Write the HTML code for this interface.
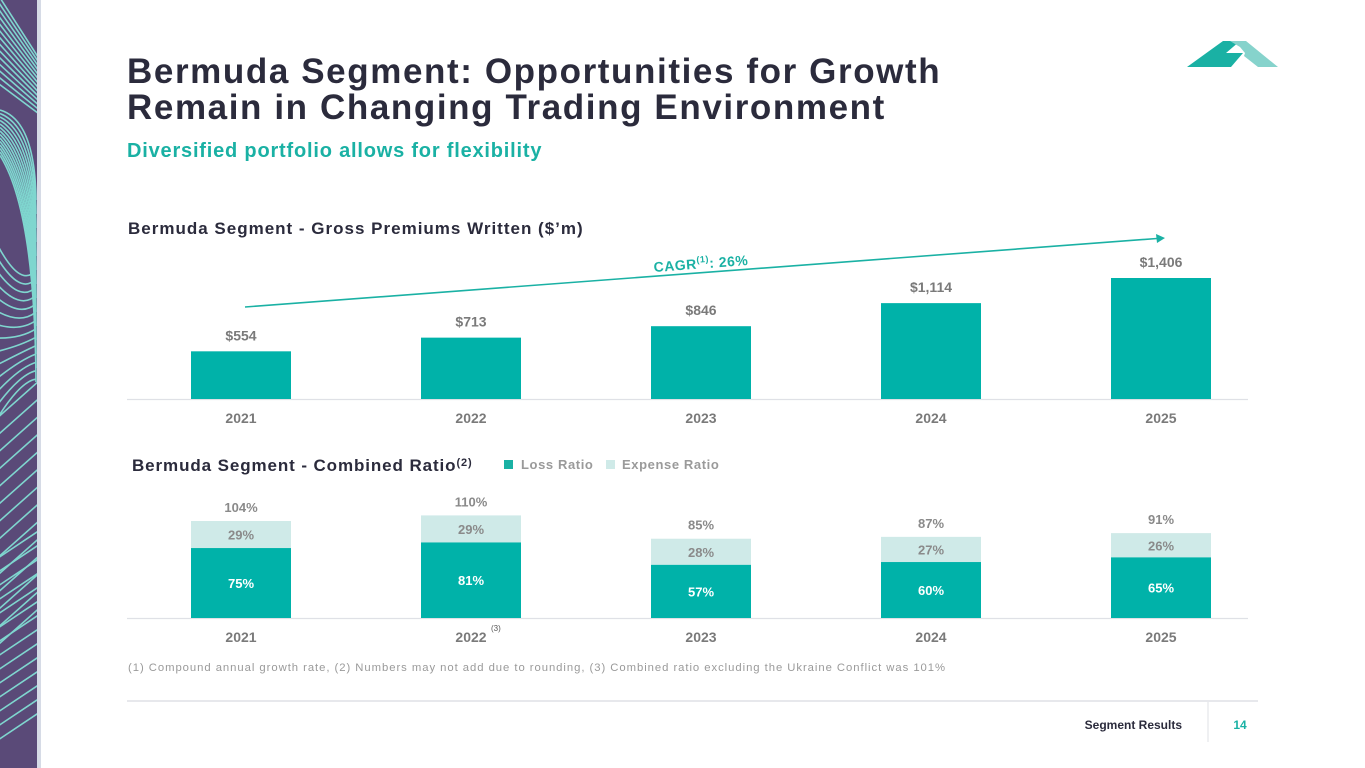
<!DOCTYPE html>
<html><head><meta charset="utf-8">
<style>
html,body{margin:0;padding:0;background:#fff;width:1365px;height:768px;overflow:hidden;}
body{position:relative;font-family:"Liberation Sans",sans-serif;}
svg{position:absolute;left:0;top:0;display:block;}
</style></head>
<body>
<svg width="1365" height="768" viewBox="0 0 1365 768" xmlns="http://www.w3.org/2000/svg">
  <defs><clipPath id="stripClip"><rect x="0" y="0" width="37" height="768"/></clipPath></defs>
  <g>
    <rect x="0" y="0" width="37" height="768" fill="#5a4a78"/>
    <rect x="37" y="0" width="4" height="768" fill="#d6dbe6"/>
    <g id="decorLines" stroke="#7fd6cf" stroke-width="1.6" fill="none" clip-path="url(#stripClip)"></g>
  </g>
  <g>
    <polygon points="1187,67 1223,41 1240,41 1226,53 1243,53 1231,67" fill="#1ab1a4"/>
    <polygon points="1230,41 1246,41 1278,67 1258,67 1244,56 1245,53 1240,47" fill="#86d3cc"/>
  </g>
  <text x="127" y="83" font-size="35" font-weight="bold" fill="#2b2b3c" letter-spacing="1.6">Bermuda Segment: Opportunities for Growth</text>
  <text x="127" y="119" font-size="35" font-weight="bold" fill="#2b2b3c" letter-spacing="1.6">Remain in Changing Trading Environment</text>
  <text x="127" y="157" font-size="20" font-weight="bold" fill="#1ab1a4" letter-spacing="0.8">Diversified portfolio allows for flexibility</text>

  <text x="128" y="234" font-size="17" font-weight="bold" fill="#2b2b3c" letter-spacing="1">Bermuda Segment - Gross Premiums Written ($’m)</text>
  <g id="gpw"></g>
  <g>
    <line x1="245" y1="307" x2="1157" y2="238.5" stroke="#1ab1a4" stroke-width="1.6"/>
    <polygon points="1165,238 1156,234 1157,243" fill="#1ab1a4"/>
    <text x="654" y="272" font-size="14" font-weight="bold" fill="#1ab1a4" letter-spacing="0.5" transform="rotate(-4.3 654 272)">CAGR<tspan font-size="9" dy="-6">(1)</tspan><tspan dy="6">: 26%</tspan></text>
  </g>

  <text x="132" y="471" font-size="17" font-weight="bold" fill="#2b2b3c" letter-spacing="0.9">Bermuda Segment - Combined Ratio<tspan font-size="11" dy="-5">(2)</tspan></text>
  <g>
    <rect x="504" y="460" width="9" height="9" fill="#1ab1a4"/>
    <text x="521" y="469" font-size="13" font-weight="bold" fill="#9a9a9a" letter-spacing="0.6">Loss  Ratio</text>
  </g>
  <g>
    <rect x="606" y="460" width="9" height="9" fill="#cfeae8"/>
    <text x="622" y="469" font-size="13" font-weight="bold" fill="#9a9a9a" letter-spacing="0.6">Expense  Ratio</text>
  </g>
  <g id="cr"></g>
  <text x="491" y="631" font-size="8" fill="#555">(3)</text>

  <text x="128" y="671" font-size="11.3" fill="#9a9a9a" letter-spacing="0.95">(1) Compound annual growth rate, (2) Numbers may not add due to rounding, (3) Combined ratio excluding the Ukraine Conflict was 101%</text>
  <line x1="127" y1="701" x2="1258" y2="701" stroke="#dfe1e6" stroke-width="1.5"/>
  <line x1="1208" y1="702" x2="1208" y2="742" stroke="#dfe1e6" stroke-width="1"/>
  <text x="1182" y="729" font-size="12" font-weight="bold" fill="#2b2b3c" text-anchor="end">Segment Results</text>
  <text x="1240" y="729" font-size="12" font-weight="bold" fill="#1ab1a4" text-anchor="middle">14</text>
</svg>
<script>
const years = ["2021","2022","2023","2024","2025"];
const gpwValues = [554, 713, 846, 1114, 1406];
const gpwLabels = ["$554","$713","$846","$1,114","$1,406"];
const lossRatio = [75, 81, 57, 60, 65];
const expenseRatio = [29, 29, 28, 27, 26];
const combinedRatio = [104, 110, 85, 87, 91];

const NS = "http://www.w3.org/2000/svg";
function mk(tag, attrs, parent, txt){
  const e = document.createElementNS(NS, tag);
  for (const k in attrs) e.setAttribute(k, attrs[k]);
  if (txt !== undefined) e.textContent = txt;
  parent.appendChild(e);
  return e;
}
function xCenter(i){ return 241 + i*230; }
const barW = 100;

// GPW chart
const gpw = document.getElementById("gpw");
const gBase = 399, gScale = 121/1406;
function gy(v){ return gBase - v*gScale; }
const gAxis = mk("line",{x1:127,y1:gBase+0.5,x2:1248,y2:gBase+0.5,stroke:"#dfe1e6","stroke-width":1.2},gpw);


gpwValues.forEach((v,i)=>{
  const cx = xCenter(i);
  const r = mk("rect",{x:cx-barW/2,y:gy(v),width:barW,height:gBase-gy(v),fill:"#00b2a9"},gpw);
  
  
  const t = mk("text",{x:cx,y:gy(v)-11,"font-size":14,"font-weight":"bold",fill:"#7a7a7a","text-anchor":"middle"},gpw,gpwLabels[i]);
  
  
  const l = mk("text",{x:cx,y:423,"font-size":14,"font-weight":"bold",fill:"#7a7a7a","text-anchor":"middle"},gpw,years[i]);
  
  
});

// Combined ratio chart
const cr = document.getElementById("cr");
const cBase = 618, cScale = 97/104;
function cy(v){ return cBase - v*cScale; }
const cAxis = mk("line",{x1:127,y1:cBase+0.5,x2:1248,y2:cBase+0.5,stroke:"#dfe1e6","stroke-width":1.2},cr);


years.forEach((yr,i)=>{
  const cx = xCenter(i);
  const lTop = cy(lossRatio[i]);
  const eTop = cy(lossRatio[i]+expenseRatio[i]);
  const eb = mk("rect",{x:cx-barW/2,y:eTop,width:barW,height:lTop-eTop,fill:"#cfeae8"},cr);
  
  
  const lb = mk("rect",{x:cx-barW/2,y:lTop,width:barW,height:cBase-lTop,fill:"#00b2a9"},cr);
  
  
  const et = mk("text",{x:cx,y:(eTop+lTop)/2+5,"font-size":13,"font-weight":"bold",fill:"#8a8a8a","text-anchor":"middle"},cr,expenseRatio[i]+"%");
  
  
  const lt = mk("text",{x:cx,y:(lTop+cBase)/2+5,"font-size":13,"font-weight":"bold",fill:"#fff","text-anchor":"middle"},cr,lossRatio[i]+"%");
  
  
  const tt = mk("text",{x:cx,y:eTop-9,"font-size":13,"font-weight":"bold",fill:"#8a8a8a","text-anchor":"middle"},cr,combinedRatio[i]+"%");
  
  
  const xl = mk("text",{x:cx,y:642,"font-size":14,"font-weight":"bold",fill:"#7a7a7a","text-anchor":"middle"},cr,yr);
  
  
});

// decorative strip lines
const dl = document.getElementById("decorLines");
for (let k=0;k<14;k++){
  const o = k*7;
  mk("path",{d:`M -5 ${-10+o} L 40 ${60+o*0.6}`},dl);
  mk("path",{d:`M 0 ${110+o*0.5} Q 35 ${120+o} 36 ${200+o*2}`},dl);
  mk("path",{d:`M -5 ${240+o*2} Q 20 ${290+o} 36 ${270+o*1.2}`},dl);
  mk("path",{d:`M -5 ${420+o*2.5} L 40 ${380+o*2.5}`},dl);
  mk("path",{d:`M -5 ${560+o*2} L 40 ${530+o*2}`},dl);
}
</script>
</body></html>
